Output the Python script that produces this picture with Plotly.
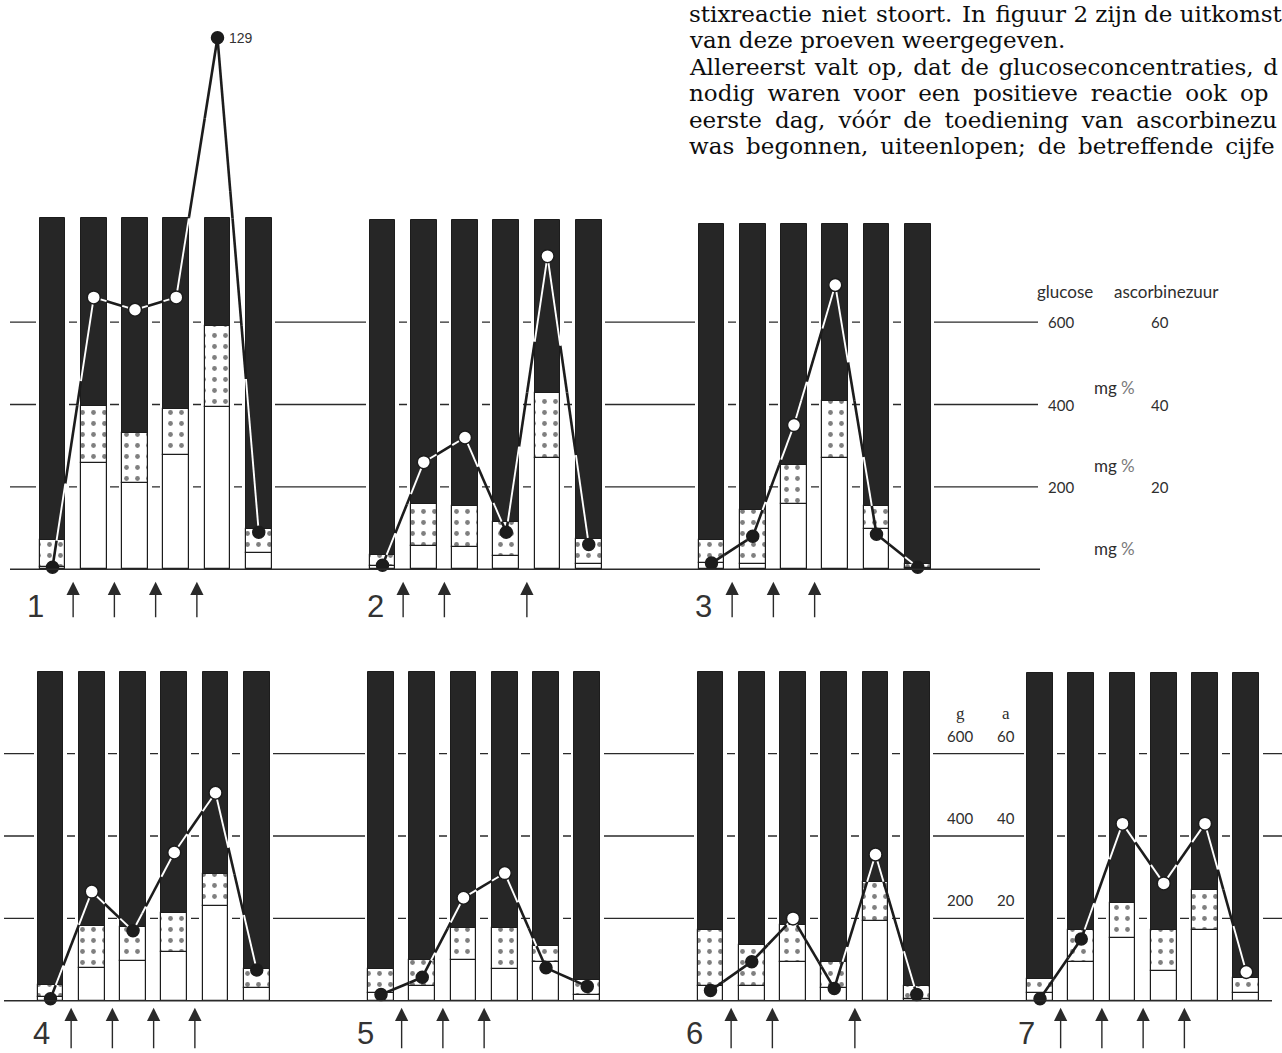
import plotly.graph_objects as go

# ---------------- data ----------------
DAYS = [1, 2, 3, 4, 5, 6]
PANEL_LABELS = ["1", "2", "3", "4", "5", "6", "7"]
GLUCOSE_TICKS = [200, 400, 600]          # mg %
ASCORBIC_TICKS = [20, 40, 60]            # mg %

# glucose levels (mg %) per panel, per day
WHITE_TOP = [
    [6, 257, 209, 278, 393, 39],
    [8, 57, 55, 33, 270, 14],
    [16, 14, 158, 270, 97, 4],
    [10, 79, 97, 119, 230, 30],
    [19, 37, 98, 77, 95, 15],
    [35, 35, 93, 30, 194, 4],
    [19, 95, 153, 72, 173, 19],
]
DOTTED_TOP = [
    [70, 397, 330, 389, 591, 97],
    [35, 158, 154, 116, 429, 73],
    [71, 144, 253, 409, 154, 12],
    [38, 181, 178, 212, 307, 76],
    [77, 98, 176, 176, 133, 51],
    [173, 136, 184, 95, 289, 35],
    [53, 173, 238, 173, 270, 56],
]
BAR_TOP = [852, 847, 838, 798, 798, 798, 795]

# ascorbic acid (mg %) per panel, per day
ASCORBIC = [
    [0.5, 66, 63, 66, 129, 9],
    [1, 26, 32, 9, 76, 6],
    [1.5, 8, 35, 69, 8.5, 0.5],
    [0.5, 26.5, 17, 36, 50.5, 7.5],
    [1.5, 5.7, 25, 31, 8, 3.5],
    [2.5, 9.5, 20, 3, 35.5, 1.5],
    [0.5, 15, 43, 28.5, 43, 7],
]
PEAK_LABEL = "129"

# ascorbic acid given after these days (arrows)
ARROW_AFTER_DAY = [
    [1, 2, 3, 4],
    [1, 2, 4],
    [1, 2, 3],
    [1, 2, 3, 4],
    [1, 2, 3],
    [1, 2, 4],
    [1, 2, 3, 4],
]

TEXT_LINES = [
    "stixreactie niet stoort. In figuur 2 zijn de uitkomst",
    "van deze proeven weergegeven.",
    "Allereerst valt op, dat de glucoseconcentraties, d",
    "nodig waren voor een positieve reactie ook op",
    "eerste dag, vóór de toediening van ascorbinezu",
    "was begonnen, uiteenlopen; de betreffende cijfe",
]
# inter-word spacing used to mimic the justified typesetting (one entry per gap)
HS, TS, FS = " \u200a", " \u2009", " \u2005"
TEXT_GAPS = [
    [HS, HS, HS, HS, " ", " ", " ", " "],
    [" "] * 3,
    [HS] * 6,
    [FS] * 7,
    [FS] * 6,
    [TS] * 5,
]

# ---------------- layout constants ----------------
W, H = 1282, 1053
FIRST_CENTER_PX = [52.5, 382.5, 711.5, 50.5, 381, 710.5, 1040]
SPACING_PX = 41.25
ROW_OF_PANEL = [0, 0, 0, 1, 1, 1, 1]
BASELINE_PX = [569.3, 1000.8]
PX_PER_UNIT = 0.412
BAR_W = 0.62
HALO_W = 0.80
RATIO = GLUCOSE_TICKS[-1] / ASCORBIC_TICKS[-1]
INK = "#1c1c1c"
BLACK = "#262626"

fig = go.Figure()
layout_axes = {}
for r, b in enumerate(BASELINE_PX):
    key = "yaxis" if r == 0 else "yaxis2"
    layout_axes[key] = dict(domain=[0, 1], range=[(b - H) / PX_PER_UNIT, b / PX_PER_UNIT],
                            visible=False, fixedrange=True)
for p in range(7):
    c1 = FIRST_CENTER_PX[p]
    r0 = DAYS[0] - c1 / SPACING_PX
    r1 = r0 + W / SPACING_PX
    key = "xaxis" if p == 0 else f"xaxis{p + 1}"
    layout_axes[key] = dict(domain=[0, 1], range=[r0, r1], visible=False, fixedrange=True,
                            anchor="y" if ROW_OF_PANEL[p] == 0 else "y2")


def on_black(x, v, dotted, top):
    d = int(round(x))
    i = d - DAYS[0]
    if 0 <= i < len(DAYS) and abs(x - d) <= BAR_W / 2:
        return dotted[i] <= v <= top
    return False


def split_line(yv, dotted, top):
    hw = BAR_W / 2
    segs = {True: ([], []), False: ([], [])}
    for k in range(len(DAYS) - 1):
        x0, x1 = DAYS[k], DAYS[k + 1]
        y0, y1 = yv[k], yv[k + 1]
        ts = {0.0, 1.0}
        for i in (k, k + 1):
            for bx in (DAYS[i] - hw, DAYS[i] + hw):
                t = (bx - x0) / (x1 - x0)
                if 0 < t < 1:
                    ts.add(t)
            for lvl in (dotted[i], top):
                if y1 != y0:
                    t = (lvl - y0) / (y1 - y0)
                    if 0 < t < 1:
                        ts.add(t)
        ts = sorted(ts)
        for ta, tb in zip(ts[:-1], ts[1:]):
            tm = (ta + tb) / 2
            key = on_black(x0 + tm * (x1 - x0), y0 + tm * (y1 - y0), dotted, top)
            xs_, ys_ = segs[key]
            xs_ += [x0 + ta * (x1 - x0), x0 + tb * (x1 - x0), None]
            ys_ += [y0 + ta * (y1 - y0), y0 + tb * (y1 - y0), None]
    return segs


annotations = []
shapes = []

for p in range(7):
    xa = "x" if p == 0 else f"x{p + 1}"
    ya = "y" if ROW_OF_PANEL[p] == 0 else "y2"
    white = WHITE_TOP[p]
    dotted = DOTTED_TOP[p]
    top = BAR_TOP[p]
    common = dict(xaxis=xa, yaxis=ya, showlegend=False, hoverinfo="skip")
    # white halo that interrupts the grid lines around each bar
    fig.add_trace(go.Bar(x=DAYS, y=[top] * len(DAYS), base=0, width=HALO_W,
                         marker=dict(color="white", line=dict(width=0)), **common))
    fig.add_trace(go.Bar(x=DAYS, y=white, base=0, width=BAR_W,
                         marker=dict(color="white", line=dict(color=INK, width=1.2)), **common))
    fig.add_trace(go.Bar(x=DAYS, y=[d - w for d, w in zip(dotted, white)], base=white, width=BAR_W,
                         marker=dict(color="white", line=dict(color=INK, width=1.2),
                                     pattern=dict(shape=".", fgcolor="#000", bgcolor="white",
                                                  size=11, solidity=0.15, fillmode="overlay")),
                         **common))
    fig.add_trace(go.Bar(x=DAYS, y=[top - d for d in dotted], base=dotted, width=BAR_W,
                         marker=dict(color=BLACK, line=dict(color=INK, width=1.0)), **common))

    asc_g = [a * RATIO for a in ASCORBIC[p]]
    segs = split_line(asc_g, dotted, top)
    fig.add_trace(go.Scatter(x=segs[False][0], y=segs[False][1], mode="lines",
                             line=dict(color=INK, width=2.6), connectgaps=False, **common))
    fig.add_trace(go.Scatter(x=segs[True][0], y=segs[True][1], mode="lines",
                             line=dict(color="white", width=1.9), connectgaps=False, **common))
    onb = [on_black(d, v, dotted, top) for d, v in zip(DAYS, asc_g)]
    fig.add_trace(go.Scatter(x=DAYS, y=asc_g, mode="markers",
                             marker=dict(size=[13 if b else 12 for b in onb], opacity=1,
                                         color=["white" if b else INK for b in onb],
                                         line=dict(color=INK, width=1.5)),
                             **common))

    # arrows (days of ascorbic acid administration)
    row = ROW_OF_PANEL[p]
    tip = -30 if row == 0 else -17
    length = 37 if row == 0 else 42
    for d in ARROW_AFTER_DAY[p]:
        annotations.append(dict(x=d + 0.5, y=tip, xref=xa, yref=ya, text="", showarrow=True,
                                ax=0, ay=length, arrowhead=2, arrowsize=1.9, arrowwidth=1.4,
                                arrowcolor="#2a2a2a"))

# peak label
peak_i = ASCORBIC[0].index(max(ASCORBIC[0]))
annotations.append(dict(x=DAYS[peak_i], y=ASCORBIC[0][peak_i] * RATIO, xref="x", yref="y",
                        text=PEAK_LABEL, showarrow=False, xanchor="left", xshift=9,
                        font=dict(family="Liberation Sans", size=14, color="#333")))

# panel numbers (x centre, bottom of text box in px)
PANEL_LABEL_PX = [(35, 625), (375, 625), (703, 625), (41, 1052), (365, 1052), (695, 1052), (1026, 1052)]
for lab, (px, py) in zip(PANEL_LABELS, PANEL_LABEL_PX):
    annotations.append(dict(x=px / W, y=1 - py / H, xref="paper", yref="paper", text=lab,
                            showarrow=False, xanchor="center", yanchor="bottom", borderpad=0,
                            font=dict(family="Liberation Sans", size=31, color="#333")))

# grid lines
GRID_X = [(10 / W, 1038 / W), (4 / W, 1.0)]
BASE_X = [(10 / W, 1040 / W), (4 / W, 1272 / W)]
for r, ya in enumerate(["y", "y2"]):
    for v in GLUCOSE_TICKS:
        shapes.append(dict(type="line", xref="paper", yref=ya, x0=GRID_X[r][0], x1=GRID_X[r][1],
                           y0=v, y1=v, layer="below", line=dict(color="#2a2a2a", width=1.3)))
    shapes.append(dict(type="line", xref="paper", yref=ya, x0=BASE_X[r][0], x1=BASE_X[r][1],
                       y0=0, y1=0, layer="above", line=dict(color="#2a2a2a", width=1.6)))

WORD_FONT = dict(family="Lato", size=17, color="#2e2e2e")
NUM_FONT = dict(family="Lato", size=15, color="#2e2e2e")
C = dict(showarrow=False, xanchor="center", yanchor="middle")
# legend-like scale labels, top row
annotations.append(dict(x=1065 / W, y=1 - 291 / H, xref="paper", yref="paper", text="glucose",
                        font=WORD_FONT, **C))
annotations.append(dict(x=1166 / W, y=1 - 291 / H, xref="paper", yref="paper", text="ascorbinezuur",
                        font=WORD_FONT, **C))
for g, a in zip(GLUCOSE_TICKS, ASCORBIC_TICKS):
    annotations.append(dict(x=1061 / W, y=g, xref="paper", yref="y", text=str(g), font=NUM_FONT, **C))
    annotations.append(dict(x=1160 / W, y=a * RATIO, xref="paper", yref="y", text=str(a),
                            font=NUM_FONT, **C))
for py in (387, 465, 548):
    annotations.append(dict(x=1114 / W, y=1 - py / H, xref="paper", yref="paper",
                            text="mg\u2005<span style='color:#7a7a7a'>%</span>", font=WORD_FONT, **C))
# bottom row scale labels
SERIF_SMALL = dict(family="Liberation Serif", size=17, color="#2e2e2e")
annotations.append(dict(x=960 / W, y=1 - 713 / H, xref="paper", yref="paper", text="g",
                        font=SERIF_SMALL, **C))
annotations.append(dict(x=1006 / W, y=1 - 713 / H, xref="paper", yref="paper", text="a",
                        font=SERIF_SMALL, **C))
for g, a in zip(GLUCOSE_TICKS, ASCORBIC_TICKS):
    annotations.append(dict(x=960 / W, y=g, xref="paper", yref="y2", yshift=18, text=str(g),
                            font=NUM_FONT, **C))
    annotations.append(dict(x=1006 / W, y=a * RATIO, xref="paper", yref="y2", yshift=18, text=str(a),
                            font=NUM_FONT, **C))

# body text (page of the article)
for i, (line, gaps) in enumerate(zip(TEXT_LINES, TEXT_GAPS)):
    words = line.split(" ")
    txt = words[0] + "".join(g + w for g, w in zip(gaps, words[1:]))
    cy = 14 + i * 26.4
    annotations.append(dict(x=688 / W, y=1 - cy / H, xref="paper", yref="paper", text=txt,
                            showarrow=False, xanchor="left", yanchor="middle", borderpad=0,
                            font=dict(family="DejaVu Serif", size=23, color="#0d0d0d")))

fig.update_layout(
    width=W, height=H, autosize=False,
    margin=dict(l=0, r=0, t=0, b=0),
    paper_bgcolor="white", plot_bgcolor="rgba(0,0,0,0)",
    barmode="overlay", bargap=0,
    showlegend=False,
    annotations=annotations, shapes=shapes,
    **layout_axes,
)

fig.write_html("out.html", config={"displayModeBar": False},
               post_script="document.body.style.margin='0';document.body.style.padding='0';")
